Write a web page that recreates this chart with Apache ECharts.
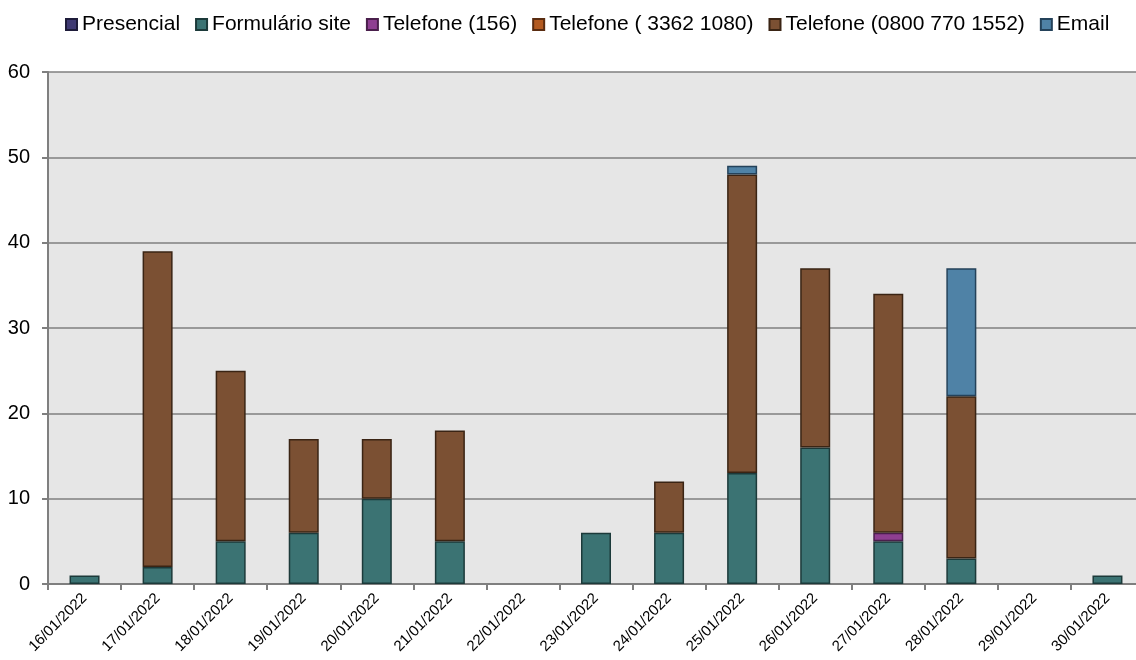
<!DOCTYPE html>
<html>
<head>
<meta charset="utf-8">
<script src="https://cdn.jsdelivr.net/npm/echarts@6/dist/echarts.min.js"></script>
<style>
  html, body { margin: 0; padding: 0; background: #ffffff; overflow: hidden; }
  #chart { width: 1144px; height: 660px; }
</style>
</head>
<body>
<div id="chart"></div>
<script>
// Daily contacts per channel
const dias = ['16/01/2022','17/01/2022','18/01/2022','19/01/2022','20/01/2022','21/01/2022','22/01/2022','23/01/2022','24/01/2022','25/01/2022','26/01/2022','27/01/2022','28/01/2022','29/01/2022','30/01/2022'];
const presencial   = [null,null,null,null,null,null,null,null,null,null,null,null,null,null,null];
const formulario   = [1, 2, 5, 6, 10, 5, null, 6, 6, 13, 16, 5, 3, null, 1];
const tel156       = [null,null,null,null,null,null,null,null,null,null,null,1,null,null,null];
const tel33621080  = [null,null,null,null,null,null,null,null,null,null,null,null,null,null,null];
const tel0800      = [null, 37, 20, 11, 7, 13, null, null, 6, 35, 21, 28, 19, null, null];
const email        = [null,null,null,null,null,null,null,null,null, 1, null, null, 15, null, null];
const yTicks = [0, 10, 20, 30, 40, 50, 60];

const canais = [
  { name: 'Presencial',               data: presencial,  fill: '#3f3a73', edge: '#1e1c3a' },
  { name: 'Formulário site',          data: formulario,  fill: '#3b7373', edge: '#1c3a3a' },
  { name: 'Telefone (156)',           data: tel156,      fill: '#8e3f91', edge: '#4a1f4c' },
  { name: 'Telefone ( 3362 1080)',    data: tel33621080, fill: '#b35a20', edge: '#5a2c10' },
  { name: 'Telefone (0800 770 1552)', data: tel0800,     fill: '#7b5033', edge: '#3a2414' },
  { name: 'Email',                    data: email,       fill: '#4f82a6', edge: '#24425a' }
];

const chart = echarts.init(document.getElementById('chart'), null, { renderer: 'canvas' });

chart.setOption({
  animation: false,
  textStyle: { fontFamily: '"Liberation Sans", Arial, sans-serif' },
  legend: {
    top: 9,
    left: 60,
    itemWidth: 11,
    itemHeight: 11,
    itemGap: 15,
    icon: 'rect',
    textStyle: { fontSize: 21, color: '#000' },
    data: canais.map(c => c.name)
  },
  grid: { left: 48, right: 0, top: 72, bottom: 76, containLabel: false,
          show: true, backgroundColor: '#e6e6e6', borderWidth: 0 },
  xAxis: {
    type: 'category',
    data: dias,
    boundaryGap: true,
    axisLine: { lineStyle: { color: '#7f7f7f', width: 2 } },
    axisTick: { show: true, length: 6, alignWithLabel: false, lineStyle: { color: '#7f7f7f', width: 2 } },
    axisLabel: { rotate: 45, fontSize: 15, color: '#000', margin: 12, interval: 0 }
  },
  yAxis: {
    type: 'value',
    min: yTicks[0],
    max: yTicks[yTicks.length - 1],
    interval: 10,
    axisLine: { show: true, lineStyle: { color: '#7f7f7f', width: 2 } },
    axisTick: { show: true, inside: false, length: 6, lineStyle: { color: '#7f7f7f', width: 2 } },
    axisLabel: { fontSize: 20, color: '#000', margin: 18 },
    splitLine: { show: true, lineStyle: { color: '#7f7f7f', width: 1.5 } }
  },
  series: canais.map(c => ({
    name: c.name,
    type: 'bar',
    stack: 'total',
    barWidth: 30,
    data: c.data,
    itemStyle: { color: c.fill, borderColor: c.edge, borderWidth: 1.5 }
  }))
});
</script>
</body>
</html>
